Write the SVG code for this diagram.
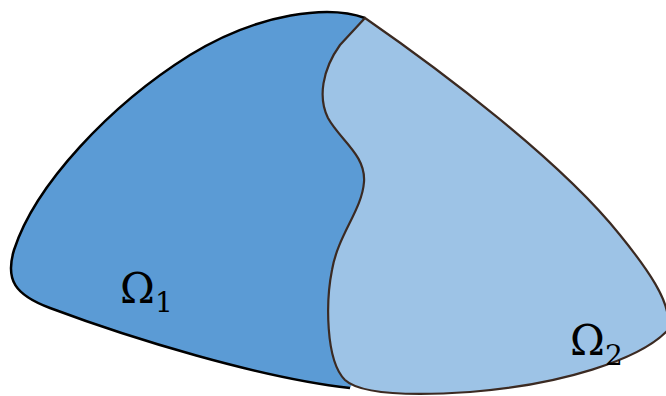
<svg xmlns="http://www.w3.org/2000/svg" width="666" height="396" viewBox="0 0 666 396">
<style>
.lbl{font-family:"DejaVu Serif","Liberation Serif",serif;fill:#000}
</style>
<rect width="666" height="396" fill="#fff"/>
<g id="omega1">
<path d="M365,18 C330,5 260,12 190,55 C110,105 35,185 14,250 C5,280 15,295 50,308 C130,338 260,378 350,388 L400,300 L395,60 Z" fill="#5B9BD5"/>
<path d="M365,18 C330,5 260,12 190,55 C110,105 35,185 14,250 C5,280 15,295 50,308 C130,338 260,378 350,388" fill="none" stroke="#000" stroke-width="2.5"/>
<text class="lbl" x="120" y="303" font-size="42">Ω</text>
<text class="lbl" x="155" y="312" font-size="28">1</text>
</g>
<g id="omega2">
<path d="M365,18 C440,70 560,160 620,235 C650,272 668,300 668,320 L668,330 C640,360 560,385 470,392 C410,396 360,394 345,380 C325,360 326,300 332,270 C338,235 362,210 364,182 C366,155 340,140 328,118 C318,98 322,70 340,45 Z" fill="#9DC3E6" stroke="#3b2a22" stroke-width="2.2"/>
<text class="lbl" x="570" y="355" font-size="42">Ω</text>
<text class="lbl" x="605" y="365" font-size="28">2</text>
</g>
<g id="connectors"/>
</svg>
